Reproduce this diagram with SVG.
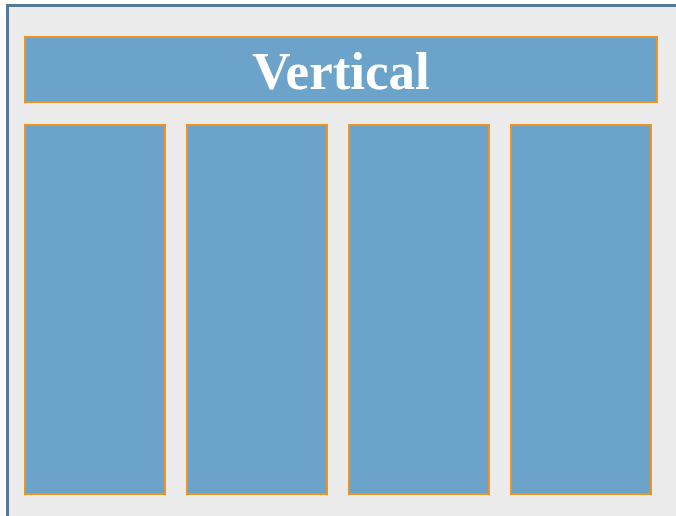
<svg xmlns="http://www.w3.org/2000/svg" width="676" height="516" viewBox="0 0 676 516">
<style>
.frame{fill:#ebebeb;stroke:#55799a;stroke-width:3}
.box{fill:#6ba3ca;stroke:#f0921e;stroke-width:2}
.title{font-family:"Liberation Serif",serif;font-weight:bold;font-size:53px;fill:#ffffff}
</style>
<rect width="676" height="516" fill="#ffffff"/>
<rect class="frame" x="7.5" y="5.5" width="680" height="520"/>
<g id="header">
<rect class="box" x="25" y="37" width="632" height="65"/>
<text class="title" x="341" y="89" text-anchor="middle">Vertical</text>
</g>
<g id="col1"><rect class="box" x="25" y="125" width="140" height="369"/></g>
<g id="col2"><rect class="box" x="187" y="125" width="140" height="369"/></g>
<g id="col3"><rect class="box" x="349" y="125" width="140" height="369"/></g>
<g id="col4"><rect class="box" x="511" y="125" width="140" height="369"/></g>
<g id="connectors"/>
</svg>
